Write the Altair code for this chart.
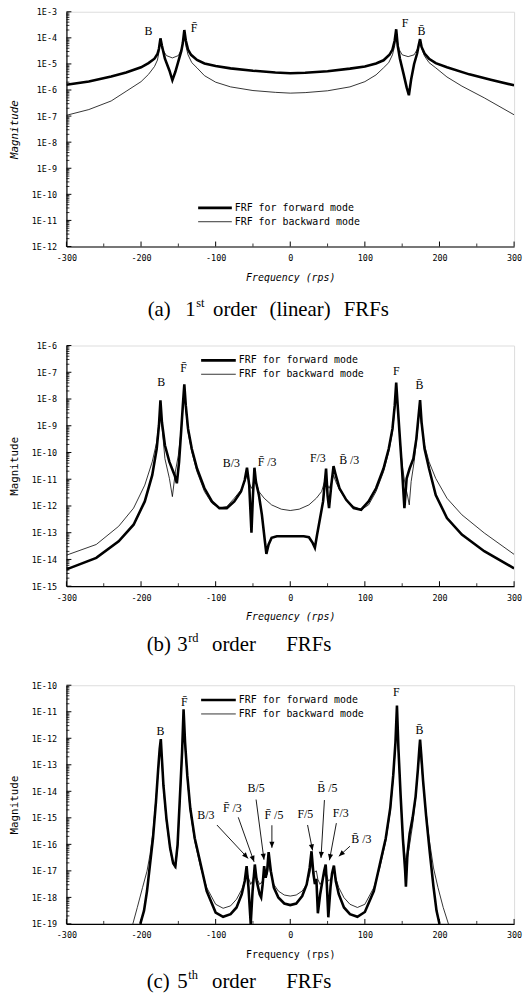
import math
import altair as alt
import pandas as pd

W = 452
H_A, H_B, H_C = 237, 243, 241

SERIES = ["forward", "backward"]
LEGEND_LABELS = ["FRF for forward mode", "FRF for backward mode"]
X_TICKS = [-300, -200, -100, 0, 100, 200, 300]
THICK, THIN = 2.6, 0.8

# ---------------- panel (a): 1st order FRFs (frequency, log10 magnitude) ----
A_FWD_F = [-300, -270, -240, -220, -200, -190, -182, -178, -176, -174, -172, -168, -162, -158,
           -154, -150, -146, -144, -142, -140, -137, -133, -125, -115, -100, -80, -50, -20, 0,
           20, 50, 80, 100, 115, 125, 133, 137, 140, 142, 144, 147, 152, 156, 159, 162, 166,
           170, 172, 174, 176, 180, 186, 195, 210, 240, 270, 300]
A_FWD_E = [-5.80, -5.67, -5.48, -5.33, -5.13, -4.97, -4.80, -4.62, -4.42, -4.02, -4.30, -4.80,
           -5.25, -5.62, -5.30, -4.90, -4.50, -4.20, -3.70, -4.10, -4.45, -4.65, -4.85, -4.98,
           -5.08, -5.17, -5.26, -5.33, -5.36, -5.34, -5.28, -5.18, -5.10, -4.98, -4.86, -4.65,
           -4.45, -4.10, -3.67, -4.30, -4.80, -5.40, -5.90, -6.20, -5.60, -5.00, -4.60, -4.30,
           -4.05, -4.35, -4.60, -4.80, -4.97, -5.13, -5.40, -5.62, -5.82]
A_BWD_F = [-300, -270, -240, -220, -200, -190, -182, -178, -176, -174, -172, -166, -158, -150,
           -146, -144, -142, -140, -137, -132, -125, -115, -100, -80, -50, -20, 0, 20, 50, 80,
           100, 115, 125, 132, 137, 140, 142, 144, 146, 150, 158, 166, 170, 172, 174, 176, 180,
           186, 195, 210, 230, 260, 300]
A_BWD_E = [-6.97, -6.75, -6.42, -6.05, -5.68, -5.40, -5.10, -4.85, -4.55, -4.10, -4.40, -4.68,
           -4.77, -4.68, -4.45, -4.20, -3.75, -4.30, -4.65, -4.95, -5.15, -5.45, -5.70, -5.88,
           -6.02, -6.09, -6.12, -6.10, -6.03, -5.88, -5.68, -5.42, -5.15, -4.95, -4.65, -4.30,
           -3.72, -4.20, -4.45, -4.65, -4.72, -4.65, -4.45, -4.30, -4.08, -4.40, -4.70, -4.95,
           -5.15, -5.50, -5.85, -6.30, -6.95]
A_PEAK_LABELS = ["B", "F\u0304", "F", "B\u0304"]
A_PEAK_F = [-190, -129, 154, 176]
A_PEAK_E = [-3.72, -3.63, -3.45, -3.75]

# ---------------- panel (b): 3rd order FRFs ----------------------------------
B_FWD_F = [-300, -260, -230, -210, -195, -185, -179, -176, -174, -172, -168, -162, -155, -152,
           -149, -146, -144, -142, -140, -137, -132, -125, -115, -105, -95, -85, -75, -66, -61,
           -58, -55, -52, -50, -48, -46, -42, -38, -34, -32, -29, -25, -18, 0, 18, 25, 30, 33,
           36, 40, 44, 46, 48, 50, 52, 55, 58, 61, 66, 75, 85, 95, 105, 115, 125, 132, 137, 140,
           142, 144, 147, 150, 153, 156, 160, 165, 169, 172, 174, 176, 180, 186, 195, 210, 230,
           260, 300]
B_FWD_E = [-14.37, -13.94, -13.32, -12.70, -11.83, -10.85, -9.86, -8.99, -8.05, -8.87, -9.73,
           -10.35, -10.85, -11.15, -10.35, -9.11, -8.25, -7.45, -8.25, -9.11, -9.86, -10.60,
           -11.34, -11.83, -12.08, -12.08, -11.83, -11.46, -11.03, -10.57, -11.22, -13.00,
           -11.60, -10.57, -11.10, -11.60, -12.33, -13.32, -13.79, -13.44, -13.19, -13.13,
           -13.13, -13.13, -13.17, -13.38, -13.56, -13.07, -12.45, -11.83, -11.22, -10.60,
           -11.60, -12.08, -11.22, -10.51, -10.85, -11.34, -11.77, -12.08, -12.14, -11.83,
           -11.34, -10.60, -9.86, -9.11, -8.25, -7.39, -8.25, -9.49, -10.72, -12.08, -10.97,
           -10.60, -10.23, -9.49, -8.62, -8.04, -8.87, -9.86, -10.60, -11.59, -12.45, -13.07,
           -13.69, -14.33]
B_BWD_F = [-300, -260, -230, -210, -195, -185, -179, -176, -174, -172, -168, -162, -158, -154,
           -150, -146, -144, -142, -140, -137, -132, -125, -115, -105, -95, -85, -75, -66, -61,
           -58, -55, -52, -50, -48, -46, -42, -35, -25, -12, 0, 12, 25, 35, 42, 46, 48, 50, 52,
           55, 58, 61, 66, 75, 85, 95, 105, 115, 125, 132, 137, 140, 142, 144, 147, 150, 154,
           157, 159.5, 162, 166, 170, 172, 174, 176, 180, 186, 195, 210, 230, 260, 300]
B_BWD_E = [-13.84, -13.44, -12.76, -12.08, -11.22, -10.35, -9.61, -8.87, -8.31, -8.99, -10.23,
           -10.97, -11.65, -10.72, -10.10, -9.11, -8.37, -7.69, -8.37, -9.24, -9.98, -10.72,
           -11.46, -11.90, -12.08, -12.02, -11.71, -11.40, -11.09, -10.85, -11.15, -11.34,
           -11.22, -10.85, -11.09, -11.46, -11.71, -11.96, -12.12, -12.17, -12.12, -11.96,
           -11.71, -11.46, -11.09, -10.85, -11.22, -11.34, -11.15, -10.85, -11.09, -11.40,
           -11.77, -12.02, -12.14, -11.96, -11.46, -10.72, -9.98, -9.24, -8.37, -7.63, -8.37,
           -9.49, -10.47, -11.22, -11.59, -11.96, -11.09, -10.35, -9.36, -8.74, -8.31, -8.99,
           -9.73, -10.35, -10.97, -11.71, -12.33, -13.01, -13.81]
B_PEAK_LABELS = ["B", "F\u0304", "B/3", "F\u0304 /3", "F/3", "B\u0304 /3", "F", "B\u0304"]
B_PEAK_F = [-173, -143, -79, -31, 37, 79, 142, 173]
B_PEAK_E = [-7.38, -6.86, -10.38, -10.35, -10.22, -10.30, -6.95, -7.47]

# ---------------- panel (c): 5th order FRFs ----------------------------------
C_FWD_F = [-201, -196, -192, -188, -184, -180, -177, -175, -173.5, -172, -170, -166, -161, -157,
           -154, -151, -148, -145, -143, -141, -138, -134, -128, -120, -112, -100, -90, -80,
           -72, -65, -61, -58.5, -56, -53, -50.5, -47.5, -45, -41, -39, -37, -35, -33, -31, -29,
           -26, -22, -16, -8, 0, 8, 16, 22, 26, 28.5, 31, 33, 35, 37, 40, 43, 45.5, 47.5, 49, 51,
           54, 56, 58.5, 61, 65, 72, 80, 90, 100, 112, 120, 128, 134, 138, 141, 143, 145, 148,
           151, 154, 155, 157, 160, 164, 168, 171, 173, 174, 175.5, 178, 182, 187, 192, 196, 200]
C_FWD_E = [-19.0, -18.5, -17.76, -16.76, -15.77, -14.40, -13.15, -12.40, -12.03, -12.78, -13.77,
           -15.02, -16.14, -16.70, -16.82, -16.01, -14.27, -12.53, -10.91, -12.15, -13.40,
           -14.64, -15.77, -16.76, -17.76, -18.57, -18.73, -18.63, -18.38, -17.88, -17.38,
           -16.82, -17.63, -19.0, -17.76, -16.76, -17.38, -17.88, -18.0, -17.51, -16.82,
           -17.26, -17.01, -16.29, -17.01, -17.63, -18.0, -18.23, -18.29, -18.23, -17.95,
           -17.51, -16.89, -16.26, -17.10, -17.50, -17.30, -18.60, -17.90, -17.40, -17.00,
           -16.76, -17.50, -18.75, -17.60, -17.10, -16.80, -17.38, -17.88, -18.38, -18.63,
           -18.73, -18.55, -17.76, -16.76, -15.77, -14.64, -13.40, -12.15, -10.77, -12.40,
           -14.20, -15.80, -17.00, -17.60, -16.40, -15.60, -15.00, -14.20, -13.20, -12.40,
           -12.05, -12.60, -13.60, -14.90, -16.30, -17.60, -18.50, -19.0]
C_BWD_F = [-211, -205, -198, -192, -188, -184, -180, -177, -175, -173.5, -172, -170, -166, -161,
           -157, -154, -151, -148, -145, -143, -141, -138, -134, -128, -120, -112, -100, -90,
           -80, -72, -65, -61, -58.5, -56, -53, -50.5, -47.5, -45, -41, -37, -35, -33, -31, -29,
           -26, -22, -16, -8, 0, 8, 16, 22, 26, 28.5, 31, 35, 37, 40, 43, 47.5, 51, 54, 58.5,
           61, 65, 72, 80, 90, 100, 112, 120, 128, 134, 138, 141, 143, 145, 148, 151, 154, 156,
           160, 164, 168, 171, 174, 176, 180, 186, 192, 198, 205, 212]
C_BWD_E = [-19.0, -18.38, -17.63, -17.01, -16.39, -15.52, -14.27, -13.28, -12.65, -12.34,
           -12.90, -13.90, -15.14, -16.20, -16.76, -16.91, -16.14, -14.40, -12.65, -11.22,
           -12.28, -13.52, -14.77, -15.89, -16.89, -17.63, -18.26, -18.41, -18.32, -18.07,
           -17.70, -17.38, -17.01, -17.26, -17.51, -17.38, -17.01, -17.26, -17.51, -17.38,
           -17.07, -17.20, -17.13, -16.76, -17.13, -17.51, -17.76, -17.91, -17.95, -17.91,
           -17.76, -17.51, -17.13, -16.76, -17.07, -17.00, -17.32, -17.51, -17.38, -17.01,
           -17.38, -17.32, -17.01, -17.26, -17.63, -18.01, -18.26, -18.38, -18.26, -17.63,
           -16.89, -15.89, -14.77, -13.52, -12.28, -11.03, -12.53, -14.27, -15.77, -16.51,
           -16.70, -16.01, -15.27, -14.27, -13.15, -12.40, -13.03, -14.27, -15.77, -16.89,
           -17.63, -18.38, -19.0]
C_PEAK_LABELS = ["B", "F\u0304", "F", "B\u0304"]
C_PEAK_F = [-174, -142, 142, 173]
C_PEAK_E = [-11.72, -10.65, -10.25, -11.68]
# arrow annotations: label position, arrow start, arrow tip
C_ARROW_LABELS = ["B/3", "F\u0304 /3", "B/5", "F\u0304 /5", "F/5", "B\u0304 /5", "F/3", "B\u0304 /3"]
C_LABEL_F = [-113, -77.7, -45.8, -21.9, 20.2, 49.8, 67.7, 95.4]
C_LABEL_E = [-14.90, -14.64, -13.88, -14.89, -14.87, -13.86, -14.83, -15.81]
C_START_F = [-98.3, -69.7, -45.8, -24.6, 23.2, 45.8, 61.8, 80.0]
C_START_E = [-15.27, -14.98, -14.31, -15.28, -15.27, -14.33, -15.20, -16.07]
C_TIP_F = [-56.5, -48.5, -35.2, -24.6, 29.9, 41.2, 52.5, 65.1]
C_TIP_E = [-16.53, -16.66, -16.58, -16.13, -16.23, -16.51, -16.60, -16.45]

CAPTIONS = {
    "a": ["(a)", "1", "st", "order", "(linear)", "FRFs"],
    "b": ["(b)", "3", "rd", "order", "FRFs"],
    "c": ["(c)", "5", "th", "order", "FRFs"],
}
CAPTION_X = {
    "a": [82, 120, 131, 148, 205, 280],
    "b": [81, 112, 123, 147, 222],
    "c": [81, 112, 123, 147, 222],
}
CAPTION_SUP = {"a": 2, "b": 2, "c": 2}
CAPTION_Y = {"a": 301, "b": 302, "c": 300}
CAPTION_EXTRA = {"a": 0, "b": 4, "c": 0}

MONO = "DejaVu Sans Mono"
SERIF = "Liberation Serif"


def lines_df(ff, fe, bf, be):
    rows = []
    for f, e in zip(ff, fe):
        rows.append({"freq": f, "mag": 10 ** e, "series": "forward"})
    for f, e in zip(bf, be):
        rows.append({"freq": f, "mag": 10 ** e, "series": "backward"})
    return pd.DataFrame(rows)


def panel(key, H, lo, hi, fwd, bwd, peaks, legend_y, legend_x, italic_x, italic_y,
          arrows=None):
    decades = [10.0 ** k for k in range(lo, hi + 1)]
    minors = [m * 10.0 ** k for k in range(lo, hi) for m in range(2, 10)]
    yscale = alt.Scale(type="log", domain=[10.0 ** lo, 10.0 ** hi], nice=False)
    xscale = alt.Scale(domain=[-300, 300], nice=False, zero=False)

    xaxis = alt.Axis(
        values=X_TICKS, labelExpr="'' + datum.value", title="Frequency (rps)",
        ticks=False, tickSize=0, grid=False, labelPadding=7, labelFont=MONO,
        labelFontSize=8.5, labelColor="black", domainColor="black", domainWidth=1.2,
        titleFont=MONO, titleFontSize=10, titleFontWeight="normal",
        titleFontStyle="italic" if italic_x else "normal", titleColor="black",
        titleX=W / 2, titleY=31, titleBaseline="middle", labelFlush=False)
    yaxis = alt.Axis(
        values=decades, labelExpr="'1E' + round(log(datum.value) / LN10)",
        title="Magnitude", ticks=False, tickSize=0, grid=False, labelPadding=10,
        labelFont=MONO, labelFontSize=8.5, labelColor="black", domainColor="black",
        domainWidth=1.2, titleFont=MONO, titleFontSize=11, titleFontWeight="normal",
        titleFontStyle="italic" if italic_y else "normal", titleColor="black",
        titleX=-52, titleY=H / 2, titleAngle=270, titleBaseline="middle",
        titleAlign="center", labelFlush=False)

    X = alt.X("freq:Q", scale=xscale, axis=xaxis)
    Y = alt.Y("mag:Q", scale=yscale, axis=yaxis)

    df = lines_df(*fwd, *bwd)
    lines = alt.Chart(df).mark_line(clip=True, color="black", strokeJoin="miter").encode(
        x=X, y=Y,
        detail="series:N",
        strokeWidth=alt.StrokeWidth("series:N", scale=alt.Scale(domain=SERIES, range=[THICK, THIN]),
                                    legend=None),
        order="freq:Q",
    )

    ymaj = alt.Chart(pd.DataFrame({"mag": decades})).mark_rule(color="black", strokeWidth=1).encode(
        y=Y, x=alt.value(0), x2=alt.value(5))
    ymin = alt.Chart(pd.DataFrame({"mag": minors})).mark_rule(color="black", strokeWidth=0.8).encode(
        y=Y, x=alt.value(0), x2=alt.value(3))
    xmaj = alt.Chart(pd.DataFrame({"freq": X_TICKS})).mark_rule(color="black", strokeWidth=1).encode(
        x=X, y=alt.value(H), y2=alt.value(H - 5))
    xmin = alt.Chart(pd.DataFrame({"freq": [-250, -150, -50, 50, 150, 250]})).mark_rule(
        color="black", strokeWidth=0.8).encode(x=X, y=alt.value(H), y2=alt.value(H - 3))

    labels, pf, pe = peaks
    pk = alt.Chart(pd.DataFrame({"freq": pf, "mag": [10 ** e for e in pe], "label": labels})).mark_text(
        font=SERIF, fontSize=12, color="black", align="center", baseline="middle").encode(
        x=X, y=Y, text="label:N")

    layers = [lines, ymaj, ymin, xmaj, xmin, pk]

    if arrows is not None:
        al, lf, le, sf, se, tf, te = arrows
        txt = alt.Chart(pd.DataFrame({"freq": lf, "mag": [10 ** e for e in le], "label": al})).mark_text(
            font=SERIF, fontSize=12, color="black", align="center", baseline="middle").encode(
            x=X, y=Y, text="label:N")
        px_per_f = W / 600.0
        px_per_dec = H / float(hi - lo)
        angs = []
        for a, b, c, d in zip(sf, se, tf, te):
            dx = (c - a) * px_per_f
            dy = (b - d) * px_per_dec
            angs.append(math.degrees(math.atan2(dx, -dy)) % 360)
        adf = pd.DataFrame({"freq": sf, "mag": [10 ** e for e in se],
                            "freq2": tf, "mag2": [10 ** e for e in te], "ang": angs})
        shafts = alt.Chart(adf).mark_rule(color="black", strokeWidth=0.9).encode(
            x=X, y=Y, x2="freq2:Q", y2="mag2:Q")
        hdf = pd.DataFrame({"freq": tf, "mag": [10 ** e for e in te], "ang": angs})
        heads = alt.Chart(hdf).mark_point(
            shape="M0,0L-0.42,1L0.42,1Z", filled=True, color="black", opacity=1, size=150,
            strokeWidth=0).encode(
            x=X, y=Y, angle=alt.Angle("ang:Q", scale=None))
        layers += [shafts, heads, txt]

    # legend (drawn in pixel space of the plot)
    for i, (lab, sw) in enumerate(zip(LEGEND_LABELS, [THICK, THIN])):
        ly = legend_y[i]
        layers.append(alt.Chart(pd.DataFrame({"k": [0]})).mark_rule(
            color="black", strokeWidth=sw).encode(
            x=alt.value(legend_x[0]), x2=alt.value(legend_x[1]), y=alt.value(ly)))
        layers.append(alt.Chart(pd.DataFrame({"k": [0]})).mark_text(
            font=MONO, fontSize=10, color="black", align="left", baseline="middle").encode(
            x=alt.value(legend_x[1] + 3), y=alt.value(ly), text=alt.value(lab)))

    # caption under the panel
    for j, (word, cx) in enumerate(zip(CAPTIONS[key], CAPTION_X[key])):
        sup = (j == CAPTION_SUP[key])
        layers.append(alt.Chart(pd.DataFrame({"k": [0]})).mark_text(
            font=SERIF, fontSize=12.5 if sup else 21, color="black", align="left",
            baseline="middle").encode(
            x=alt.value(cx), y=alt.value(CAPTION_Y[key] - (7 if sup else 0)),
            text=alt.value(word)))
    if CAPTION_EXTRA[key]:
        # invisible spacer extending the panel's lower bound (layout spacing only)
        layers.append(alt.Chart(pd.DataFrame({"k": [0]})).mark_rule(
            color="white", strokeWidth=0.1, opacity=0).encode(
            x=alt.value(0), x2=alt.value(1),
            y=alt.value(CAPTION_Y[key] + 11 + CAPTION_EXTRA[key])))

    return alt.layer(*layers).properties(width=W, height=H)


pa = panel("a", H_A, -12, -3, (A_FWD_F, A_FWD_E), (A_BWD_F, A_BWD_E),
           (A_PEAK_LABELS, A_PEAK_F, A_PEAK_E), legend_y=[198, 212], legend_x=[133, 167],
           italic_x=True, italic_y=True)
pb = panel("b", H_B, -15, -6, (B_FWD_F, B_FWD_E), (B_BWD_F, B_BWD_E),
           (B_PEAK_LABELS, B_PEAK_F, B_PEAK_E), legend_y=[15, 29], legend_x=[136, 171],
           italic_x=True, italic_y=False)
pc = panel("c", H_C, -19, -10, (C_FWD_F, C_FWD_E), (C_BWD_F, C_BWD_E),
           (C_PEAK_LABELS, C_PEAK_F, C_PEAK_E), legend_y=[15, 29], legend_x=[136, 171],
           italic_x=False, italic_y=False,
           arrows=(C_ARROW_LABELS, C_LABEL_F, C_LABEL_E, C_START_F, C_START_E, C_TIP_F, C_TIP_E))

chart = alt.vconcat(pa, pb, pc, spacing=20).properties(
    padding={"left": 0, "top": -6, "right": 0, "bottom": 0}
).configure_view(stroke="black", strokeWidth=1.2).configure(background="white")

chart.save("out.html", embed_options={"renderer": "svg", "actions": False})
